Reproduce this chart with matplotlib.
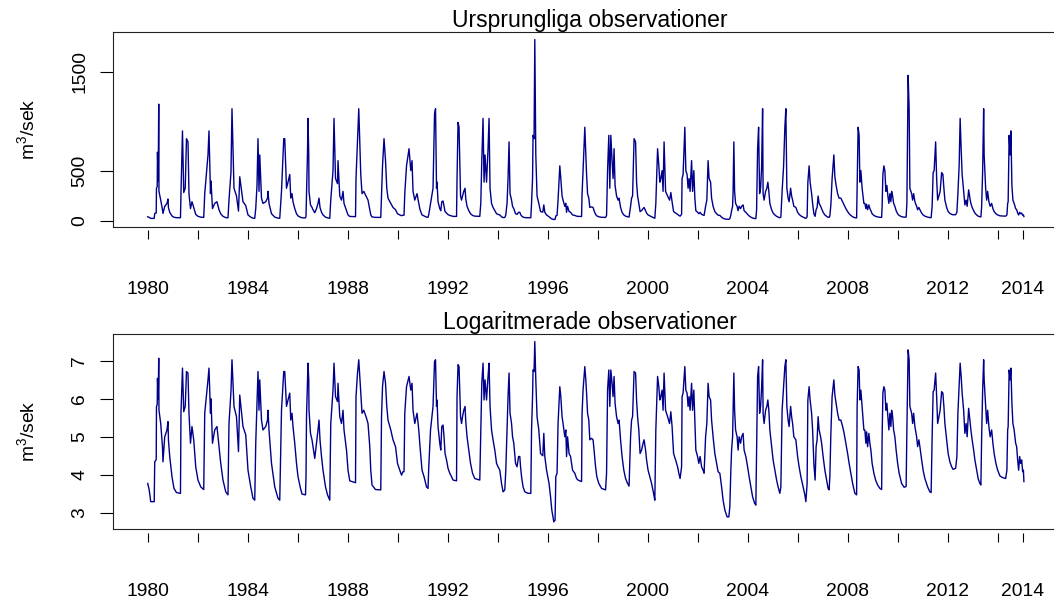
import numpy as np
import matplotlib.pyplot as plt

plt.rcParams['font.family'] = ['Liberation Sans', 'DejaVu Sans']
plt.rcParams['mathtext.fontset'] = 'custom'
plt.rcParams['mathtext.rm'] = 'Liberation Sans'
plt.rcParams['mathtext.it'] = 'Liberation Sans:italic'

# (decimal year, log flow)
obs_1980_1985 = [
    (1980.00, 3.77), (1980.06, 3.60), (1980.12, 3.29), (1980.26, 3.29), (1980.28, 4.34), (1980.34, 4.40),
    (1980.35, 5.80), (1980.38, 5.85), (1980.39, 6.54), (1980.42, 6.00), (1980.44, 7.07), (1980.45, 5.70),
    (1980.52, 5.35), (1980.59, 4.74), (1980.61, 4.34), (1980.68, 5.00), (1980.77, 5.18), (1980.81, 5.40),
    (1980.83, 4.90), (1980.88, 4.48), (1980.97, 3.95), (1981.05, 3.64), (1981.15, 3.53), (1981.31, 3.51),
    (1981.33, 5.62), (1981.39, 6.81), (1981.44, 5.66), (1981.50, 5.80), (1981.55, 6.72), (1981.61, 6.68),
    (1981.65, 5.62), (1981.71, 4.83), (1981.77, 5.27), (1981.84, 4.92), (1981.92, 4.21), (1982.01, 3.86),
    (1982.12, 3.68), (1982.24, 3.61), (1982.28, 5.62), (1982.41, 6.50), (1982.45, 6.81), (1982.51, 5.62),
    (1982.53, 6.00), (1982.59, 4.83), (1982.68, 5.18), (1982.77, 5.27), (1982.85, 4.74), (1982.92, 4.30),
    (1983.01, 3.86), (1983.12, 3.55), (1983.21, 3.47), (1983.25, 5.35), (1983.33, 6.20), (1983.37, 7.03),
    (1983.45, 5.80), (1983.55, 5.53), (1983.63, 4.61), (1983.68, 6.10), (1983.81, 5.27), (1983.92, 5.05),
    (1984.01, 4.12), (1984.12, 3.68), (1984.21, 3.38), (1984.28, 3.33), (1984.32, 4.83), (1984.37, 5.88),
    (1984.41, 6.72), (1984.45, 5.70), (1984.48, 6.50), (1984.55, 5.44), (1984.61, 5.18), (1984.72, 5.27),
    (1984.79, 5.44), (1984.81, 5.70), (1984.85, 5.18), (1984.95, 4.30), (1985.08, 3.68), (1985.21, 3.38),
    (1985.28, 3.33), (1985.35, 5.70), (1985.44, 6.72),
]
obs_1985_1991 = [
    (1985.48, 6.72), (1985.55, 5.80), (1985.61, 5.97), (1985.68, 6.15), (1985.72, 5.44), (1985.77, 5.62),
    (1985.81, 5.27), (1985.88, 4.83), (1985.95, 4.30), (1986.01, 3.95), (1986.11, 3.64), (1986.17, 3.49),
    (1986.31, 3.47), (1986.33, 3.95), (1986.35, 5.53), (1986.39, 6.54), (1986.41, 6.94), (1986.44, 6.50),
    (1986.45, 5.70), (1986.51, 5.09), (1986.57, 4.92), (1986.61, 4.74), (1986.68, 4.43), (1986.75, 4.83),
    (1986.81, 5.18), (1986.85, 5.44), (1986.89, 4.92), (1986.95, 4.48), (1987.01, 4.12), (1987.11, 3.68),
    (1987.19, 3.47), (1987.28, 3.33), (1987.32, 5.35), (1987.41, 6.23), (1987.45, 6.94), (1987.51, 6.06),
    (1987.59, 5.93), (1987.61, 6.41), (1987.68, 5.53), (1987.75, 5.35), (1987.81, 5.70), (1987.85, 5.18),
    (1987.95, 4.65), (1988.01, 4.12), (1988.08, 3.84), (1988.31, 3.79), (1988.33, 6.06), (1988.39, 6.68),
    (1988.44, 7.03), (1988.52, 6.15), (1988.57, 5.62), (1988.64, 5.70), (1988.75, 5.49), (1988.81, 5.35),
    (1988.88, 4.74), (1988.92, 4.12), (1988.97, 3.73), (1989.11, 3.61), (1989.32, 3.60), (1989.35, 5.53),
    (1989.39, 6.32), (1989.45, 6.72), (1989.51, 6.41), (1989.56, 5.80), (1989.61, 5.44), (1989.72, 5.18),
    (1989.81, 4.92), (1989.91, 4.74), (1989.99, 4.30), (1990.08, 4.12), (1990.15, 3.99), (1990.21, 4.08),
    (1990.25, 4.08), (1990.28, 5.62), (1990.35, 6.32), (1990.45, 6.59), (1990.52, 6.23), (1990.57, 6.41),
    (1990.61, 5.70), (1990.68, 5.35), (1990.77, 5.62), (1990.84, 5.18), (1990.89, 4.74), (1990.97, 4.12),
    (1991.05, 3.95), (1991.15, 3.68), (1991.21, 3.64), (1991.24, 4.21), (1991.31, 5.18),
]
obs_1991_1997 = [
    (1991.41, 5.80), (1991.47, 6.98), (1991.51, 7.03), (1991.55, 5.80), (1991.57, 5.97), (1991.61, 5.27),
    (1991.68, 4.83), (1991.72, 4.65), (1991.76, 5.27), (1991.81, 5.31), (1991.85, 5.00), (1991.89, 4.56),
    (1991.95, 4.39), (1992.01, 4.17), (1992.08, 4.04), (1992.15, 3.95), (1992.21, 3.86), (1992.35, 3.84),
    (1992.37, 6.06), (1992.41, 6.90), (1992.45, 6.85), (1992.51, 5.53), (1992.55, 5.35), (1992.59, 5.53),
    (1992.64, 5.70), (1992.69, 5.80), (1992.72, 5.40), (1992.77, 5.00), (1992.84, 4.65), (1992.91, 4.30),
    (1992.99, 4.04), (1993.08, 3.90), (1993.28, 3.86), (1993.32, 5.18), (1993.36, 6.41), (1993.41, 6.94),
    (1993.45, 5.97), (1993.49, 6.50), (1993.55, 5.97), (1993.61, 6.59), (1993.65, 6.94), (1993.69, 5.80),
    (1993.75, 5.18), (1993.81, 4.92), (1993.88, 4.65), (1993.95, 4.30), (1994.01, 4.21), (1994.08, 4.12),
    (1994.15, 3.77), (1994.21, 3.55), (1994.28, 3.60), (1994.32, 4.12), (1994.37, 5.18), (1994.41, 6.06),
    (1994.45, 6.68), (1994.49, 5.62), (1994.55, 5.35), (1994.59, 5.00), (1994.64, 4.83), (1994.71, 4.30),
    (1994.77, 4.21), (1994.83, 4.48), (1994.88, 4.48), (1994.91, 4.21), (1994.95, 3.95), (1995.01, 3.68),
    (1995.08, 3.55), (1995.21, 3.51), (1995.32, 3.51), (1995.35, 5.18), (1995.39, 6.06), (1995.41, 6.76),
    (1995.45, 6.72), (1995.48, 7.51), (1995.52, 6.50), (1995.57, 5.53), (1995.64, 5.18), (1995.71, 4.56),
    (1995.80, 4.50), (1995.84, 5.09), (1995.88, 4.48), (1995.95, 4.12), (1996.05, 3.77), (1996.11, 3.42),
    (1996.16, 3.07), (1996.24, 2.76), (1996.29, 2.80), (1996.32, 3.95), (1996.37, 4.04), (1996.41, 5.35),
    (1996.48, 6.32), (1996.52, 6.06), (1996.57, 5.53), (1996.61, 5.35), (1996.68, 5.00), (1996.72, 5.18),
    (1996.75, 4.48), (1996.79, 5.00), (1996.85, 4.56), (1996.91, 4.48), (1996.99, 4.12),
]
obs_1997_2002 = [
    (1997.08, 4.04), (1997.15, 3.90), (1997.21, 3.86), (1997.35, 3.82), (1997.37, 5.62), (1997.41, 6.23),
    (1997.48, 6.85), (1997.52, 6.50), (1997.55, 6.15), (1997.59, 5.62), (1997.64, 5.44), (1997.68, 4.92),
    (1997.75, 4.96), (1997.81, 4.92), (1997.85, 4.65), (1997.91, 4.21), (1997.96, 3.95), (1998.04, 3.77),
    (1998.15, 3.64), (1998.31, 3.60), (1998.35, 4.04), (1998.39, 6.23), (1998.44, 6.76), (1998.48, 5.80),
    (1998.52, 6.76), (1998.57, 6.41), (1998.61, 6.06), (1998.65, 6.59), (1998.69, 5.88), (1998.75, 5.53),
    (1998.81, 5.35), (1998.85, 5.44), (1998.91, 4.92), (1998.97, 4.48), (1999.04, 4.12), (1999.11, 3.90),
    (1999.19, 3.77), (1999.25, 3.70), (1999.31, 5.00), (1999.35, 5.44), (1999.39, 5.53), (1999.45, 6.72),
    (1999.51, 6.68), (1999.55, 5.97), (1999.59, 5.53), (1999.64, 5.18), (1999.69, 4.56), (1999.75, 4.65),
    (1999.81, 4.83), (1999.85, 4.92), (1999.91, 4.65), (1999.95, 4.39), (2000.01, 4.12), (2000.08, 3.95),
    (2000.15, 3.77), (2000.23, 3.51), (2000.28, 3.33), (2000.32, 5.18), (2000.39, 6.59), (2000.44, 6.32),
    (2000.48, 5.97), (2000.52, 6.06), (2000.57, 6.23), (2000.61, 5.70), (2000.65, 6.68), (2000.71, 5.70),
    (2000.79, 5.53), (2000.87, 5.35), (2000.92, 5.66), (2000.97, 5.27), (2001.03, 4.56), (2001.11, 4.39),
    (2001.19, 4.21), (2001.24, 4.04), (2001.29, 3.90), (2001.35, 4.21), (2001.37, 6.06), (2001.41, 6.15),
    (2001.48, 6.85), (2001.52, 6.23), (2001.57, 6.15), (2001.61, 5.80), (2001.65, 6.06), (2001.69, 5.70),
    (2001.75, 6.41), (2001.79, 5.70), (2001.84, 6.23), (2001.88, 5.44), (2001.92, 4.65), (2001.99, 4.48),
    (2002.04, 4.30), (2002.09, 4.48), (2002.15, 4.21), (2002.21, 4.12), (2002.25, 4.04), (2002.31, 5.00),
    (2002.36, 5.35), (2002.41, 6.41), (2002.45, 6.06), (2002.51, 5.97), (2002.55, 5.44), (2002.61, 5.00),
    (2002.68, 4.56), (2002.75, 4.30), (2002.81, 4.08),
]
obs_2002_2008 = [
    (2002.88, 4.04), (2002.95, 3.68), (2003.01, 3.33), (2003.08, 3.07), (2003.17, 2.89), (2003.24, 2.89),
    (2003.28, 3.16), (2003.32, 4.12), (2003.35, 4.65), (2003.39, 5.00), (2003.41, 5.70), (2003.44, 6.68),
    (2003.47, 5.70), (2003.51, 5.18), (2003.57, 5.00), (2003.61, 4.65), (2003.65, 5.00), (2003.71, 4.83),
    (2003.75, 5.00), (2003.81, 5.09), (2003.85, 4.65), (2003.92, 4.48), (2003.99, 4.21), (2004.05, 3.95),
    (2004.12, 3.68), (2004.19, 3.42), (2004.27, 3.25), (2004.32, 3.20), (2004.35, 4.74), (2004.39, 6.59),
    (2004.43, 6.85), (2004.47, 5.62), (2004.51, 5.80), (2004.55, 6.28), (2004.59, 7.03), (2004.61, 5.62),
    (2004.65, 5.35), (2004.71, 5.70), (2004.76, 5.80), (2004.80, 5.97), (2004.84, 5.70), (2004.88, 5.18),
    (2004.95, 4.74), (2005.01, 4.39), (2005.08, 4.12), (2005.15, 3.86), (2005.21, 3.68), (2005.28, 3.51),
    (2005.32, 3.68), (2005.37, 5.70), (2005.43, 6.32), (2005.48, 6.85), (2005.52, 7.03), (2005.56, 5.80),
    (2005.61, 5.44), (2005.65, 5.27), (2005.71, 5.80), (2005.75, 5.53), (2005.79, 5.35), (2005.84, 5.00),
    (2005.92, 4.92), (2005.99, 4.48), (2006.05, 4.21), (2006.12, 3.95), (2006.21, 3.68), (2006.28, 3.47),
    (2006.32, 3.29), (2006.37, 3.77), (2006.40, 5.97), (2006.45, 6.32), (2006.49, 5.97), (2006.55, 5.62),
    (2006.59, 5.18), (2006.64, 4.30), (2006.69, 3.86), (2006.73, 4.74), (2006.77, 4.92), (2006.81, 5.53),
    (2006.85, 5.18), (2006.91, 5.00), (2006.95, 4.83), (2007.01, 4.48), (2007.08, 4.12), (2007.15, 3.86),
    (2007.21, 3.64), (2007.25, 3.60), (2007.28, 3.95), (2007.32, 5.09), (2007.37, 6.06), (2007.44, 6.50),
    (2007.48, 6.10), (2007.53, 5.88), (2007.59, 5.62), (2007.65, 5.44), (2007.72, 5.44), (2007.79, 5.27),
    (2007.85, 5.09), (2007.92, 4.83), (2007.99, 4.56), (2008.05, 4.30), (2008.12, 4.04), (2008.19, 3.77),
    (2008.28, 3.51), (2008.35, 3.47), (2008.37, 5.80), (2008.41, 6.85), (2008.45, 6.76), (2008.48, 5.97),
    (2008.52, 6.23), (2008.57, 5.80), (2008.64, 5.18),
]
obs_2008_2014 = [
    (2008.68, 5.18), (2008.72, 4.83), (2008.75, 5.13), (2008.79, 4.74), (2008.84, 5.09), (2008.88, 4.83),
    (2008.92, 4.65), (2008.97, 4.30), (2009.04, 4.04), (2009.11, 3.86), (2009.19, 3.73), (2009.28, 3.64),
    (2009.35, 3.61), (2009.37, 5.00), (2009.40, 6.15), (2009.44, 6.32), (2009.48, 6.23), (2009.52, 5.70),
    (2009.56, 5.88), (2009.60, 5.53), (2009.64, 5.18), (2009.68, 5.62), (2009.72, 5.27), (2009.75, 5.70),
    (2009.79, 5.53), (2009.83, 5.18), (2009.88, 5.00), (2009.93, 4.65), (2009.99, 4.30), (2010.05, 4.04),
    (2010.15, 3.77), (2010.25, 3.67), (2010.33, 3.69), (2010.36, 5.18), (2010.41, 7.29), (2010.45, 7.03),
    (2010.48, 5.80), (2010.55, 5.62), (2010.59, 5.35), (2010.63, 5.62), (2010.68, 5.27), (2010.75, 5.00),
    (2010.79, 4.74), (2010.84, 4.92), (2010.88, 4.74), (2010.95, 4.39), (2011.01, 4.12), (2011.08, 3.90),
    (2011.19, 3.68), (2011.28, 3.55), (2011.33, 3.53), (2011.37, 5.00), (2011.41, 6.19), (2011.45, 6.23),
    (2011.51, 6.68), (2011.55, 6.06), (2011.59, 5.35), (2011.64, 5.53), (2011.69, 5.70), (2011.75, 6.19),
    (2011.80, 6.15), (2011.84, 5.80), (2011.88, 5.35), (2011.95, 4.92), (2012.01, 4.56), (2012.08, 4.34),
    (2012.15, 4.21), (2012.21, 4.14), (2012.31, 4.17), (2012.36, 4.48), (2012.40, 5.62), (2012.45, 6.32),
    (2012.49, 6.94), (2012.53, 6.59), (2012.57, 6.15), (2012.63, 5.70), (2012.68, 5.09), (2012.73, 5.35),
    (2012.77, 5.00), (2012.83, 5.75), (2012.88, 5.44), (2012.92, 5.18), (2012.97, 4.92), (2013.03, 4.65),
    (2013.08, 4.39), (2013.15, 4.12), (2013.21, 3.90), (2013.28, 3.77), (2013.32, 3.73), (2013.35, 5.00),
    (2013.39, 6.23), (2013.43, 7.03), (2013.45, 6.50), (2013.51, 5.80), (2013.55, 5.35), (2013.59, 5.70),
    (2013.64, 5.27), (2013.69, 5.00), (2013.75, 5.18), (2013.80, 4.83), (2013.85, 4.56), (2013.92, 4.30),
    (2013.99, 4.12), (2014.08, 3.97), (2014.17, 3.93), (2014.31, 3.90), (2014.36, 4.12), (2014.39, 5.18),
    (2014.41, 5.27), (2014.45, 6.76), (2014.49, 6.50), (2014.52, 6.81), (2014.56, 5.88), (2014.60, 5.35),
    (2014.65, 5.18), (2014.71, 4.83), (2014.75, 4.74), (2014.79, 4.39), (2014.83, 4.12), (2014.87, 4.48),
    (2014.91, 4.30), (2014.95, 4.39), (2014.99, 4.08), (2015.02, 4.12), (2015.04, 3.82),
]

year_ticks = list(range(1980, 2015, 2)) + [2015]
year_labels = [str(y) if (y - 1980) % 4 == 0 else '' for y in range(1980, 2015, 2)] + ['2014']
flow_ticks = [0, 500, 1500]
log_ticks = [3, 4, 5, 6, 7]

pts = np.array(obs_1980_1985 + obs_1985_1991 + obs_1991_1997 +
               obs_1997_2002 + obs_2002_2008 + obs_2008_2014)
t = pts[:, 0]
log_flow = pts[:, 1]
flow = np.exp(log_flow)

fig = plt.figure(figsize=(10.54, 6.05), dpi=100)
ax1 = fig.add_axes([0.1069, 0.6253, 0.8978, 0.3213])
ax2 = fig.add_axes([0.1069, 0.1256, 0.8978, 0.3218])

panels = [
    (ax1, flow, 'Ursprungliga observationer', flow_ticks),
    (ax2, log_flow, 'Logaritmerade observationer', log_ticks),
]
for ax, y, title, yt in panels:
    ax.plot(t, y, color='#00008B', lw=1.0)
    ax.margins(x=0.04, y=0.04)
    ax.set_title(title, fontsize=16.6, pad=3.5, x=0.504)
    for s in ax.spines.values():
        s.set_linewidth(0.8)
        s.set_color('#222222')
    ax.set_yticks(yt)
    ax.set_yticklabels([str(v) for v in yt], rotation=90, va='center')
    ax.tick_params(axis='y', length=9.1, width=0.8, pad=8.6, labelsize=13.9)
    ax.set_ylabel('m$^3$/sek', fontsize=13.9, va='center')
    ax.yaxis.set_label_coords(-0.090, 0.5)
    ax.tick_params(axis='x', bottom=False, labelbottom=False)
    sec = ax.secondary_xaxis(-0.019)
    sec.spines['bottom'].set_visible(False)
    sec.set_xticks(year_ticks)
    sec.set_xticklabels(year_labels)
    sec.tick_params(length=6.5, width=0.8, pad=30, labelsize=13.9)

fig.savefig('out.png', dpi=100)
